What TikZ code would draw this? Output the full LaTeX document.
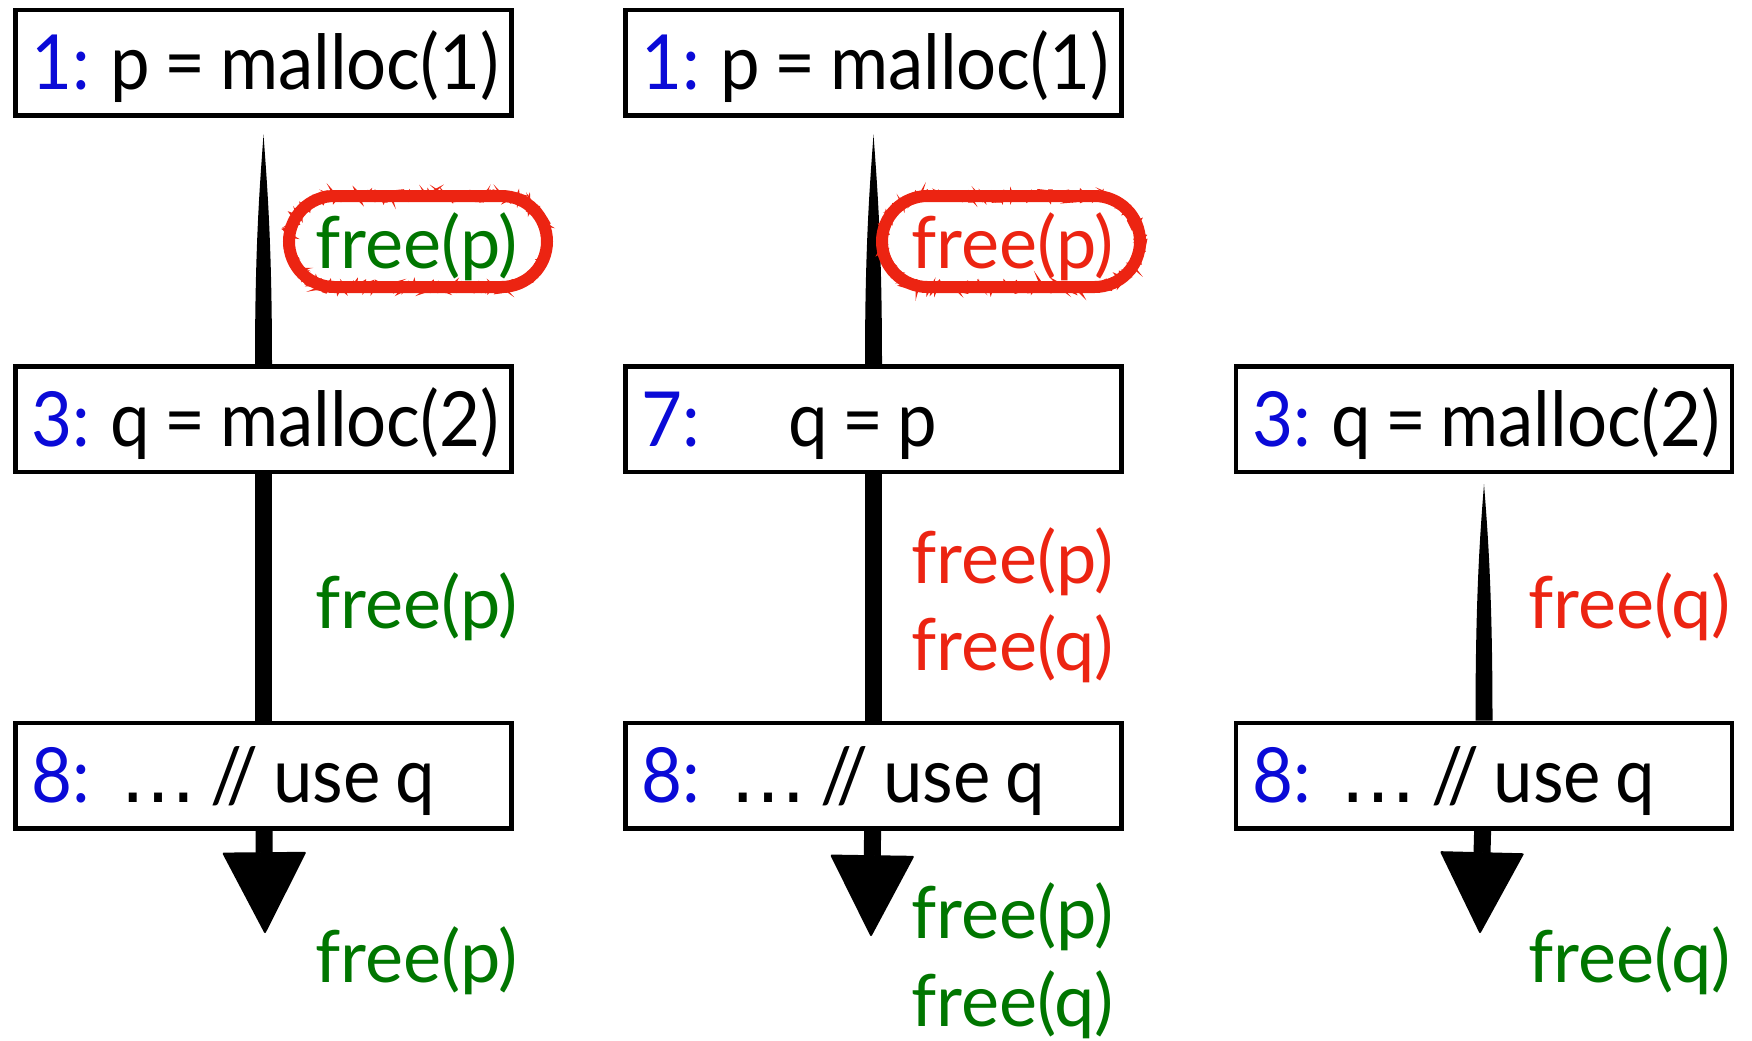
\documentclass[tikz,border=0pt]{standalone}
\usepackage{fontspec}
\setmainfont{Lato}
\newfontfamily\codefont{Lato}[FakeStretch=0.93,WordSpace=0.8]
\newfontfamily\dotsfont{DejaVu Sans}
\usetikzlibrary{arrows.meta,shapes.misc,decorations.pathmorphing}
\definecolor{lineno}{RGB}{10,10,215}
\definecolor{okgreen}{RGB}{0,118,0}
\definecolor{badred}{RGB}{236,36,18}
\newcommand{\lno}[1]{\textcolor{lineno}{#1}}
\newcommand{\stmttext}[1]{\makebox[232pt][l]{#1}}
\pgfmathsetseed{7}
\begin{document}
\begin{tikzpicture}[x=0.5pt,y=-0.5pt,
  stmt/.style={draw, line width=2.25pt, rectangle, minimum width=248pt,
    minimum height=52.75pt, inner xsep=8pt, inner ysep=0pt,
    text height=30pt, text depth=3pt,
    font=\codefont\fontsize{38}{42}\selectfont},
  lbl/.style={anchor=base west, inner sep=0pt, font=\fontsize{36}{40}\selectfont},
  ok/.style={lbl, text=okgreen},
  bad/.style={lbl, text=badred},
  flow/.style={line width=8.5pt},
  head/.style={-{Triangle[length=41pt,width=42pt,line width=1pt,round]}},
  ring/.style={rounded rectangle, draw=badred, line width=6pt,
    minimum width=129pt, minimum height=45.5pt, inner sep=0pt,
    postaction={draw=badred, line width=1.4pt, decorate,
      decoration={random steps, segment length=1.6pt, amplitude=2.6pt}},
    postaction={draw=badred, line width=0.9pt, decorate,
      decoration={random steps, segment length=1.1pt, amplitude=3.2pt}}}
]
\useasboundingbox (0,0) rectangle (1752,1040);

% statement boxes
\node[stmt] (a1) at (263.5,62.5) {\stmttext{\lno{1:} p = malloc(1)}};
\node[stmt] (a2) at (263.5,419) {\stmttext{\lno{3:} q = malloc(2)}};
\node[stmt] (a3) at (263.5,775.5) {\stmttext{\lno{8:}\hspace{15pt}{\dotsfont …} // use q}};

\node[stmt] (b1) at (873.5,62.5) {\stmttext{\lno{1:} p = malloc(1)}};
\node[stmt] (b2) at (873.5,419) {\stmttext{\lno{7:}\hspace{44pt}q = p}};
\node[stmt] (b3) at (873.5,775.5) {\stmttext{\lno{8:}\hspace{15pt}{\dotsfont …} // use q}};

\node[stmt] (c2) at (1484,419) {\stmttext{\lno{3:} q = malloc(2)}};
\node[stmt] (c3) at (1484,775.5) {\stmttext{\lno{8:}\hspace{15pt}{\dotsfont …} // use q}};

\coordinate (ea) at (265,933);
\coordinate (eb) at (871,936);
\coordinate (ec) at (1480,933);

% brush-stroke edges that start thin
\fill ([shift={(0,17)}]a1.south) .. controls ([shift={(-3,60)}]a1.south) and ([shift={(-8.5,120)}]a1.south) .. ([shift={(-8.5,0)}]a2.north)
  -- ([shift={(8.5,0)}]a2.north) .. controls ([shift={(8.5,120)}]a1.south) and ([shift={(3,60)}]a1.south) .. cycle;
\fill ([shift={(0,17)}]b1.south) .. controls ([shift={(-3,60)}]b1.south) and ([shift={(-8.5,120)}]b1.south) .. ([shift={(-8.5,0)}]b2.north)
  -- ([shift={(8.5,0)}]b2.north) .. controls ([shift={(8.5,120)}]b1.south) and ([shift={(3,60)}]b1.south) .. cycle;
\fill ([shift={(0,10)}]c2.south) .. controls ([shift={(-3,50)}]c2.south) and ([shift={(-8.5,110)}]c2.south) .. ([shift={(-8.5,0)}]c3.north)
  -- ([shift={(8.5,0)}]c3.north) .. controls ([shift={(8.5,110)}]c2.south) and ([shift={(3,50)}]c2.south) .. cycle;

% solid edges and exits
\draw[flow] (a2) -- (a3);
\draw[flow] (b2) -- (b3);
\draw[flow, head] (a3) -- (ea);
\draw[flow, head] (b3) -- (eb);
\draw[flow, head] (c3) -- (ec);

% facts on the edges
\node[ok] (f1) at (315,268) {free(p)};
\node[ring] (r1) at (418,241.5) {};
\node[ok] (f2) at (315,628) {free(p)};
\node[ok] (f3) at (315,982) {free(p)};

\node[bad] (g1) at (911,268) {free(p)};
\node[ring] (r2) at (1011,241.5) {};
\node[bad] (g2) at (911,583) {free(p)};
\node[bad] (g3) at (911,670) {free(q)};
\node[ok] (g4) at (911,938) {free(p)};
\node[ok] (g5) at (911,1026) {free(q)};

\node[bad] (h1) at (1528,628) {free(q)};
\node[ok] (h2) at (1528,982) {free(q)};
\end{tikzpicture}
\end{document}
